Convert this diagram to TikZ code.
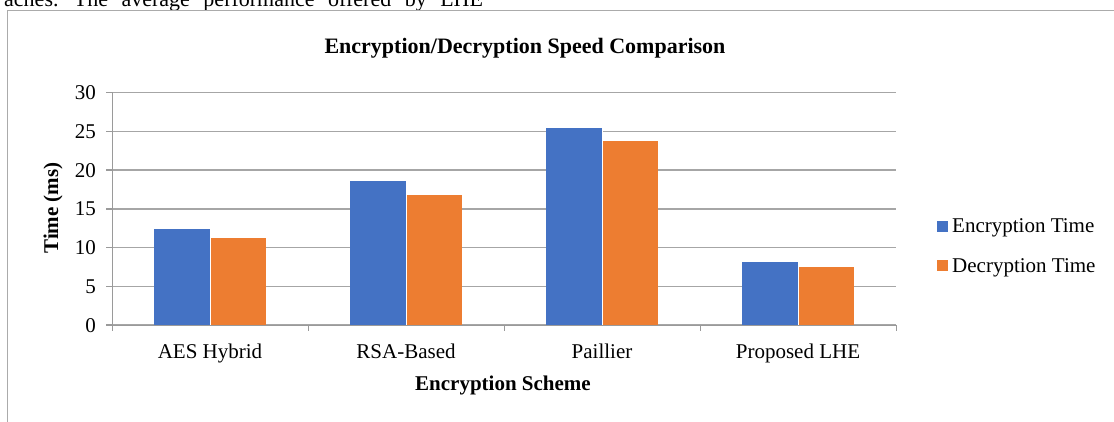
\documentclass[tikz,border=0pt]{standalone}
\usepackage{fontspec}
\setmainfont{Liberation Serif}
\definecolor{encblue}{HTML}{4472C4}
\definecolor{decorange}{HTML}{ED7D31}
\definecolor{gridgray}{HTML}{A6A6A6}
\definecolor{axisgray}{HTML}{9A9A9A}
\definecolor{framegray}{HTML}{ABABAB}
\begin{document}
\begin{tikzpicture}[x=1pt,y=-1pt,
  lbl/.style={inner sep=0pt,font=\fontsize{21}{25}\selectfont},
  blbl/.style={inner sep=0pt,font=\fontsize{21}{25}\selectfont\bfseries},
  grid line/.style={draw=gridgray,line width=1.3pt},
  axis line/.style={draw=axisgray,line width=1.3pt}]
\useasboundingbox (0,0) rectangle (1114,421);
\clip (0,0) rectangle (1114,421);
% text line above
\node[anchor=base west,inner sep=0pt,font=\fontsize{22}{26}\selectfont] (prev) at (4,6)
  {\spaceskip=13.5pt aches. The average performance offered by LHE};
% outer frame
\draw[framegray,line width=1.5pt] (7.5,440) -- (7.5,10.5) -- (1130,10.5);
% title
\node[anchor=base,inner sep=0pt,font=\fontsize{22}{26}\selectfont\bfseries] (title) at (525,53) {Encryption/Decryption Speed Comparison};
% gridlines and y ticks
\foreach \v in {0,5,...,30}{
  \pgfmathsetmacro{\yy}{325-\v*7.743}
  \draw[grid line] (112,\yy) -- (896,\yy);
  \draw[axis line] (106,\yy) -- (112,\yy);
  \node[lbl,anchor=base east] (t\v) at (96,\yy+7) {\v};
}
% bars
\foreach \i/\e/\d in {0/12.4/11.2,1/18.65/16.8,2/25.4/23.8,3/8.1/7.5}{
  \pgfmathsetmacro{\xx}{112+196*\i}
  \fill[encblue] (\xx+42,325) rectangle (\xx+98,325-\e*7.743);
  \fill[decorange] (\xx+98,325) rectangle (\xx+154,325-\d*7.743);
  \draw[white,line width=0.5pt] (\xx+98,325-\e*7.743) -- (\xx+98,325);
}
% axes
\draw[axis line] (112.5,92) -- (112.5,325);
\draw[axis line] (112,325.5) -- (896,325.5);
\foreach \i in {0,...,4}{
  \draw[axis line] (112.5+196*\i,325) -- (112.5+196*\i,331);
}
% category labels
\node[lbl,anchor=base] (c1) at (210,358) {AES Hybrid};
\node[lbl,anchor=base] (c2) at (406,358) {RSA-Based};
\node[lbl,anchor=base] (c3) at (602,358) {Paillier};
\node[lbl,anchor=base] (c4) at (798,358) {Proposed LHE};
% axis titles
\node[blbl,anchor=base] (xt) at (503,390) {Encryption Scheme};
\node[blbl,anchor=base,rotate=90] (yt) at (58,208) {Time (ms)};
% legend
\fill[encblue] (937,221) rectangle (948,232);
\fill[decorange] (937,260) rectangle (948,271);
\node[lbl,anchor=base west] (l1) at (952,232) {Encryption Time};
\node[lbl,anchor=base west] (l2) at (952,272) {Decryption Time};
\end{tikzpicture}
\end{document}
